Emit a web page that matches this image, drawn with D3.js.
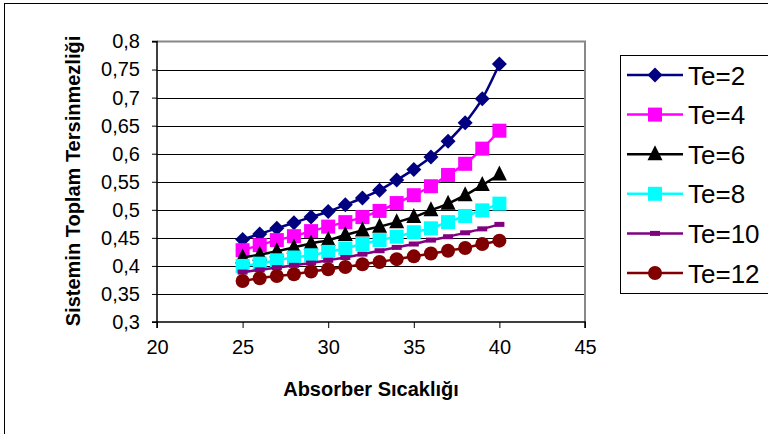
<!DOCTYPE html>
<html>
<head>
<meta charset="utf-8">
<script src="https://cdn.jsdelivr.net/npm/d3@7"></script>
<style>
  body { margin: 0; background: #fff; }
  text { font-family: "Liberation Sans", Arial, sans-serif; }
</style>
</head>
<body>
<svg width="768" height="434"></svg>
<script>
// data
var temps = [25, 26, 27, 28, 29, 30, 31, 32, 33, 34, 35, 36, 37, 38, 39, 40];
var te2  = [0.447, 0.457, 0.467, 0.477, 0.487, 0.497, 0.509, 0.521, 0.535, 0.553, 0.572, 0.594, 0.622, 0.655, 0.698, 0.760];
var te4  = [0.428, 0.437, 0.446, 0.453, 0.462, 0.470, 0.478, 0.487, 0.498, 0.512, 0.526, 0.542, 0.562, 0.582, 0.609, 0.641];
var te6  = [0.415, 0.420, 0.426, 0.433, 0.440, 0.446, 0.455, 0.463, 0.470, 0.478, 0.487, 0.499, 0.511, 0.526, 0.544, 0.563];
var te8  = [0.400, 0.404, 0.410, 0.415, 0.419, 0.425, 0.431, 0.439, 0.446, 0.452, 0.460, 0.467, 0.478, 0.489, 0.499, 0.511];
var te10 = [0.389, 0.393, 0.397, 0.401, 0.405, 0.410, 0.415, 0.421, 0.427, 0.433, 0.439, 0.446, 0.452, 0.459, 0.466, 0.474];
var te12 = [0.373, 0.378, 0.382, 0.385, 0.390, 0.394, 0.398, 0.403, 0.407, 0.412, 0.417, 0.422, 0.427, 0.432, 0.439, 0.445];

var seriesNames = ["Te=2", "Te=4", "Te=6", "Te=8", "Te=10", "Te=12"];
var seriesValues = [te2, te4, te6, te8, te10, te12];
var colors = ["#000080", "#ff00ff", "#000000", "#00ffff", "#800080", "#800000"];
var shapes = ["diamond", "square", "triangle", "square", "dash", "circle"];

var xTicks = [20, 25, 30, 35, 40, 45];
var yTicks = [0.3, 0.35, 0.4, 0.45, 0.5, 0.55, 0.6, 0.65, 0.7, 0.75, 0.8];

var plot = { left: 157, right: 585, top: 41.5, bottom: 322 };

var svg = d3.select("svg");

// outer chart border
svg.append("rect")
    .attr("x", 4.5).attr("y", 3.5)
    .attr("width", 770).attr("height", 440)
    .attr("fill", "none").attr("stroke", "#000").attr("stroke-width", 1);

var x = d3.scaleLinear().domain([20, 45]).range([plot.left, plot.right]);
var y = d3.scaleLinear().domain([0.3, 0.8]).range([plot.bottom, plot.top]);

var fmt = function(d) { return d3.format("")(+d.toFixed(2)).replace(".", ","); };

// gridlines
svg.append("g")
    .selectAll("line")
    .data(yTicks.slice(1, -1))
    .enter().append("line")
    .attr("x1", plot.left).attr("x2", plot.right)
    .attr("y1", function(d) { return Math.round(y(d)) + 0.5; })
    .attr("y2", function(d) { return Math.round(y(d)) + 0.5; })
    .attr("stroke", "#000").attr("stroke-width", 1);

// plot area border (top + right are grey)
svg.append("path")
    .attr("d", "M" + plot.left + "," + plot.top + "H" + plot.right + "V" + plot.bottom)
    .attr("fill", "none").attr("stroke", "#888").attr("stroke-width", 2);

// axes
var yAxis = d3.axisLeft(y).tickValues(yTicks).tickSize(5).tickPadding(12).tickFormat(fmt);
var xAxis = d3.axisBottom(x).tickValues(xTicks).tickSize(6).tickPadding(12).tickFormat(d3.format("d"));

var gy = svg.append("g").attr("transform", "translate(" + plot.left + ",0)").call(yAxis);
var gx = svg.append("g").attr("transform", "translate(0," + plot.bottom + ")").call(xAxis);

[gy, gx].forEach(function(g) {
    g.select(".domain").attr("stroke", "#000").attr("stroke-width", 1.5);
    g.selectAll(".tick line").attr("stroke", "#000").attr("stroke-width", 1);
    g.selectAll(".tick text")
        .attr("fill", "#000")
        .style("font-family", "'Liberation Sans', Arial, sans-serif")
        .style("font-size", "20px");
});
gy.select(".domain").attr("d", "M-5," + plot.bottom + "H0V" + plot.top + "H-5");
gx.select(".domain").attr("d", "M" + plot.left + ",6V0H" + plot.right + "V6");

// axis titles
svg.append("text")
    .attr("transform", "translate(80,181) rotate(-90)")
    .attr("text-anchor", "middle")
    .style("font-size", "20px").style("font-weight", "bold")
    .text("Sistemin Toplam Tersinmezliği");

svg.append("text")
    .attr("x", 371).attr("y", 396)
    .attr("text-anchor", "middle")
    .style("font-size", "20px").style("font-weight", "bold")
    .text("Absorber Sıcaklığı");

// marker drawing
function marker(g, shape, color) {
    if (shape == "diamond") {
        g.append("path").attr("d", "M0,-7.5L7.5,0L0,7.5L-7.5,0Z").attr("fill", color);
    } else if (shape == "square") {
        g.append("rect").attr("x", -7).attr("y", -7).attr("width", 14).attr("height", 14).attr("fill", color);
    } else if (shape == "triangle") {
        g.append("path").attr("d", "M0,-9L7.5,6L-7.5,6Z").attr("fill", color);
    } else if (shape == "dash") {
        g.append("rect").attr("x", -5).attr("y", -2.5).attr("width", 10).attr("height", 5).attr("fill", color);
    } else {
        g.append("circle").attr("r", 7).attr("fill", color);
    }
}

var line = d3.line()
    .x(function(d, i) { return x(temps[i]); })
    .y(function(d) { return y(d); })
    .curve(d3.curveMonotoneX);

seriesValues.forEach(function(vals, k) {
    var g = svg.append("g").attr("class", "series");
    g.append("path")
        .attr("d", line(vals))
        .attr("fill", "none")
        .attr("stroke", colors[k])
        .attr("stroke-width", 2.5);
    g.selectAll("g.pt")
        .data(vals)
        .enter().append("g")
        .attr("class", "pt")
        .attr("transform", function(d, i) { return "translate(" + x(temps[i]) + "," + y(d) + ")"; })
        .each(function() { marker(d3.select(this), shapes[k], colors[k]); });
});

// legend
var legend = svg.append("g");
legend.append("rect")
    .attr("x", 620.5).attr("y", 55.5)
    .attr("width", 160).attr("height", 238)
    .attr("fill", "#fff").attr("stroke", "#000").attr("stroke-width", 1);

seriesNames.forEach(function(name, k) {
    var cy = 75 + k * 39.6;
    var item = legend.append("g");
    item.append("line")
        .attr("x1", 627).attr("x2", 683)
        .attr("y1", cy).attr("y2", cy)
        .attr("stroke", colors[k]).attr("stroke-width", 2.5);
    marker(item.append("g").attr("transform", "translate(655," + cy + ")"), shapes[k], colors[k]);
    item.append("text")
        .attr("x", 688).attr("y", cy + 9.5)
        .style("font-size", "26px")
        .text(name);
});
</script>
</body>
</html>
